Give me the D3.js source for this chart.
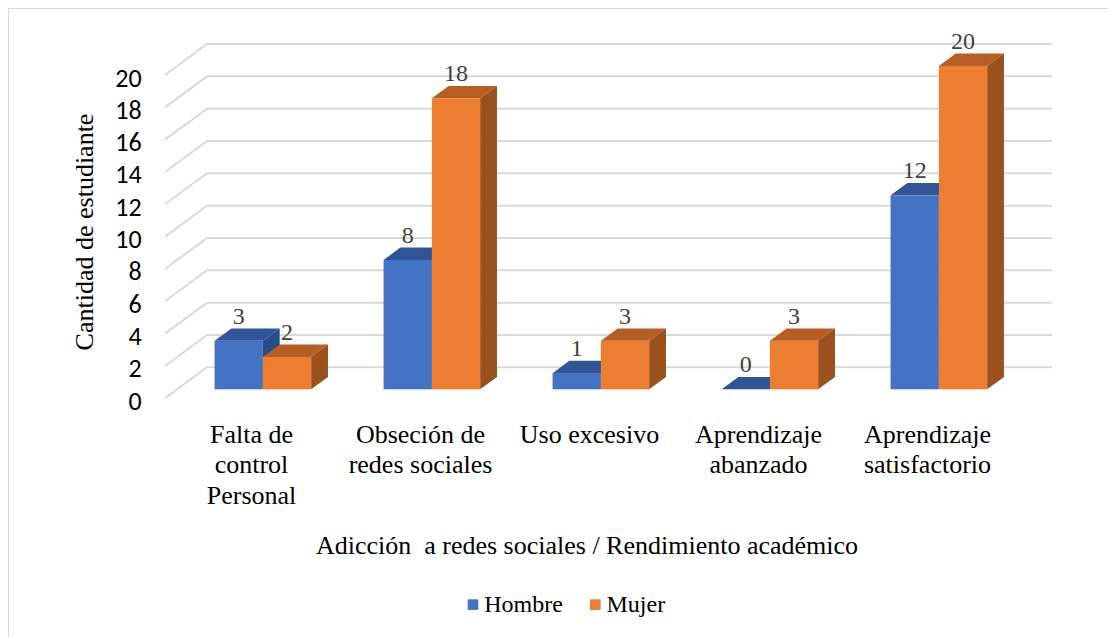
<!DOCTYPE html>
<html>
<head>
<meta charset="utf-8">
<script src="https://cdn.jsdelivr.net/npm/d3@7"></script>
</head>
<body style="margin:0">
<svg id="chart" width="1108" height="637"></svg>
<script>
var categories = ["Falta de control Personal", "Obseción de redes sociales", "Uso excesivo", "Aprendizaje abanzado", "Aprendizaje satisfactorio"];
var categoryLines = [["Falta de", "control", "Personal"], ["Obseción de", "redes sociales"], ["Uso excesivo"], ["Aprendizaje", "abanzado"], ["Aprendizaje", "satisfactorio"]];
var seriesNames = ["Hombre", "Mujer"];
var hombreValues = [3, 8, 1, 0, 12];
var mujerValues = [2, 18, 3, 3, 20];
var yTicks = [0, 2, 4, 6, 8, 10, 12, 14, 16, 18, 20];

(function () {
    var svg = d3.select('#chart');
    var serifFont = "'Times New Roman'";
    var sansFont = "'Carlito'";

    var colors = {
        Hombre: {front: "#4472C4", top: "#2F5597", side: "#294C89"},
        Mujer: {front: "#ED7D31", top: "#B75E22", side: "#9A511E"}
    };

    // oblique projection: depth 0 = front of floor, 1 = back wall
    var depthX = 42, depthY = -31;
    var barDepth0 = 0.29, barDepth1 = 0.69;
    var barWidth = 48.3;

    var xScale = d3.scaleBand().domain(categories).range([165, 1010]);
    var yScale = d3.scaleLinear().domain([0, 20]).range([398.3, 75]);

    function px(x, d) { return x + depthX * d; }
    function py(y, d) { return y + depthY * d; }

    function label(parent, x, y, size, txt) {
        return parent.append("text")
            .style("font-family", serifFont)
            .attr("x", x).attr("y", y)
            .attr("font-size", size)
            .text(txt);
    }

    svg.append("rect")
        .attr("x", 8.5).attr("y", 8.5)
        .attr("width", 1120).attr("height", 650)
        .attr("fill", "none")
        .attr("stroke", "#D9D9D9");

    // gridlines: side diagonal then back wall
    var x0 = xScale.range()[0], x1 = xScale.range()[1];
    svg.append("g").selectAll("path").data(yTicks).join("path")
        .attr("d", function (v) {
            var y = yScale(v);
            return "M" + x0 + "," + y + "L" + px(x0, 1) + "," + py(y, 1) + "L" + px(x1, 1) + "," + py(y, 1);
        })
        .attr("fill", "none")
        .attr("stroke", "#D9D9D9")
        .attr("stroke-width", 2);

    var bars = [];
    categories.forEach(function (c, i) {
        bars.push({cat: c, series: "Hombre", value: hombreValues[i], k: 0});
        bars.push({cat: c, series: "Mujer", value: mujerValues[i], k: 1});
    });

    var groupPad = (xScale.bandwidth() - 2 * barWidth) / 2 + 1.2;

    bars.forEach(function (b) {
        var left = px(xScale(b.cat), barDepth0) + groupPad + b.k * barWidth;
        var right = left + barWidth;
        var bottom = py(yScale(0), barDepth0);
        var top = py(yScale(b.value), barDepth0);
        var dx = depthX * (barDepth1 - barDepth0), dy = depthY * (barDepth1 - barDepth0);
        var c = colors[b.series];

        svg.append("rect")
            .attr("x", left).attr("y", top)
            .attr("width", barWidth).attr("height", bottom - top)
            .attr("fill", c.front);
        svg.append("path")
            .attr("d", "M" + left + "," + top + "L" + (left + dx) + "," + (top + dy) +
                "L" + (right + dx) + "," + (top + dy) + "L" + right + "," + top + "Z")
            .attr("fill", c.top);
        svg.append("path")
            .attr("d", "M" + right + "," + top + "L" + (right + dx) + "," + (top + dy) +
                "L" + (right + dx) + "," + (bottom + dy) + "L" + right + "," + bottom + "Z")
            .attr("fill", c.side);

        label(svg, left + barWidth / 2, top + dy - 4.5, 24, b.value)
            .attr("text-anchor", "middle")
            .attr("fill", "#404040");
    });

    // category labels, one text per line
    categories.forEach(function (c, i) {
        categoryLines[i].forEach(function (line, j) {
            label(svg, xScale(c) + xScale.bandwidth() / 2 + 2, 442.7 + j * 30.5, 26, line)
                .attr("text-anchor", "middle");
        });
    });

    label(svg, 587, 554, 26, "Adicción  a redes sociales / Rendimiento académico")
        .attr("text-anchor", "middle")
        .style("white-space", "pre");

    label(svg, 0, 0, 26, "Cantidad de estudiante")
        .attr("transform", "translate(93,232) rotate(-90)")
        .attr("text-anchor", "middle");

    // legend
    var legendX = [467.7, 590];
    seriesNames.forEach(function (d, i) {
        svg.append("rect")
            .attr("x", legendX[i]).attr("y", 599.3)
            .attr("width", 10.6).attr("height", 10.6)
            .attr("fill", colors[d].front);
        label(svg, legendX[i] + 16.5, 611.7, 24, d);
    });

    yTicks.forEach(function (v) {
        svg.append("text")
            .style("font-family", sansFont)
            .attr("x", 141.7)
            .attr("y", yScale(v) + 2.5)
            .attr("text-anchor", "end")
            .attr("dominant-baseline", "central")
            .attr("font-size", 26)
            .text(v);
    });
}());
</script>
</body>
</html>
